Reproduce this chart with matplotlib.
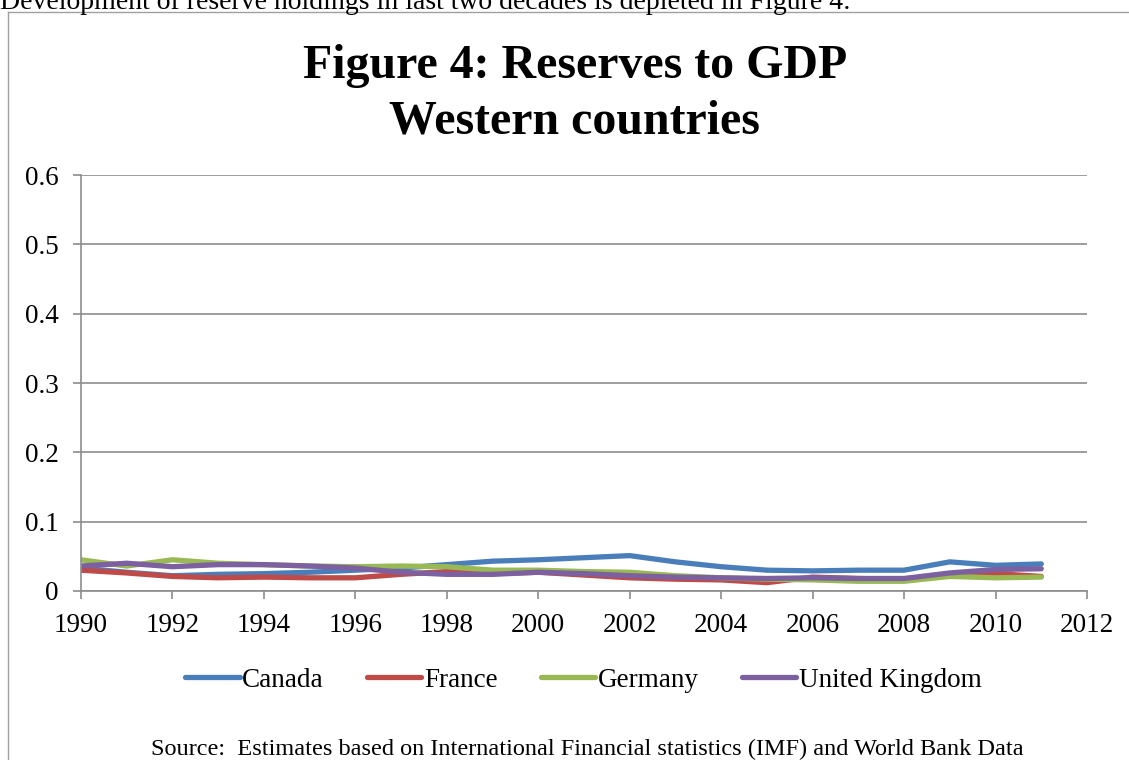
import matplotlib.pyplot as plt
from matplotlib.lines import Line2D

plt.rcParams['font.family'] = ['Liberation Serif', 'DejaVu Serif']

anos = list(range(1990, 2012))

canada = [0.033, 0.027, 0.022, 0.024, 0.025, 0.027, 0.030, 0.033, 0.038, 0.043, 0.045,
          0.048, 0.051, 0.042, 0.035, 0.030, 0.029, 0.030, 0.030, 0.042, 0.037, 0.039]
franca = [0.030, 0.026, 0.021, 0.019, 0.020, 0.019, 0.019, 0.024, 0.028, 0.025, 0.027,
          0.023, 0.019, 0.017, 0.016, 0.012, 0.020, 0.018, 0.017, 0.024, 0.025, 0.021]
alemanha = [0.045, 0.036, 0.045, 0.040, 0.038, 0.036, 0.035, 0.036, 0.035, 0.030, 0.030,
            0.028, 0.027, 0.022, 0.019, 0.017, 0.016, 0.014, 0.014, 0.021, 0.019, 0.020]
reino_unido = [0.036, 0.040, 0.035, 0.038, 0.038, 0.036, 0.033, 0.027, 0.024, 0.024, 0.027,
               0.025, 0.022, 0.020, 0.019, 0.018, 0.019, 0.018, 0.018, 0.026, 0.031, 0.032]

series = [("Canada", canada, '#4a7ebb'),
          ("France", franca, '#be4b48'),
          ("Germany", alemanha, '#98b954'),
          ("United Kingdom", reino_unido, '#7d60a0')]

fig = plt.figure(figsize=(11.29, 7.6), dpi=100)
ax = fig.add_axes([0.0717, 0.2224, 0.8911, 0.5473])

for nome, valores, cor in series:
    ax.plot(anos, valores, color=cor, lw=3.8, label=nome, solid_capstyle='round')

ax.set_xlim(1990, 2012)
ax.set_ylim(0, 0.6)
ax.set_xticks(range(1990, 2013, 2))
ax.set_yticks([0, 0.1, 0.2, 0.3, 0.4, 0.5, 0.6])
ax.set_yticklabels(['0', '0.1', '0.2', '0.3', '0.4', '0.5', '0.6'])
ax.yaxis.grid(True, color='#8c8c8c', lw=1.2)
ax.set_axisbelow(True)
for lado in ['top', 'right']:
    ax.spines[lado].set_visible(False)
for lado in ['left', 'bottom']:
    ax.spines[lado].set_color('#8c8c8c')
    ax.spines[lado].set_linewidth(1.2)
ax.tick_params(axis='both', labelsize=19.5, color='#8c8c8c', length=6, width=1.2)
ax.tick_params(axis='x', pad=10)
ax.tick_params(axis='y', pad=10)

fig.text(0.509, 0.877, "Figure 4: Reserves to GDP\nWestern countries", ha='center', va='center',
         fontsize=34.5, fontweight='bold', linespacing=1.33)

fig.legend(loc='center', bbox_to_anchor=(0.517, 0.105), ncol=4, frameon=False,
           fontsize=19.5, handlelength=2.0, columnspacing=1.6, handletextpad=0.1)

fig.text(0.52, 0.006, "Source:  Estimates based on International Financial statistics (IMF) and World Bank Data",
         ha='center', va='baseline', fontsize=17.5)

# frase do texto acima do grafico, cortada na borda como no original
fig.text(0.0, 1 - 9 / 760, "Development of reserve holdings in last two decades is depleted in Figure 4:",
         ha='left', va='baseline', fontsize=20)

# moldura do grafico
fig.add_artist(Line2D([8 / 1129, 8 / 1129], [0, 1 - 12 / 760], transform=fig.transFigure,
                      color='#a0a0a0', lw=1))
fig.add_artist(Line2D([8 / 1129, 1], [1 - 12 / 760, 1 - 12 / 760], transform=fig.transFigure,
                      color='#a0a0a0', lw=1))

fig.savefig('out.png', dpi=100)
